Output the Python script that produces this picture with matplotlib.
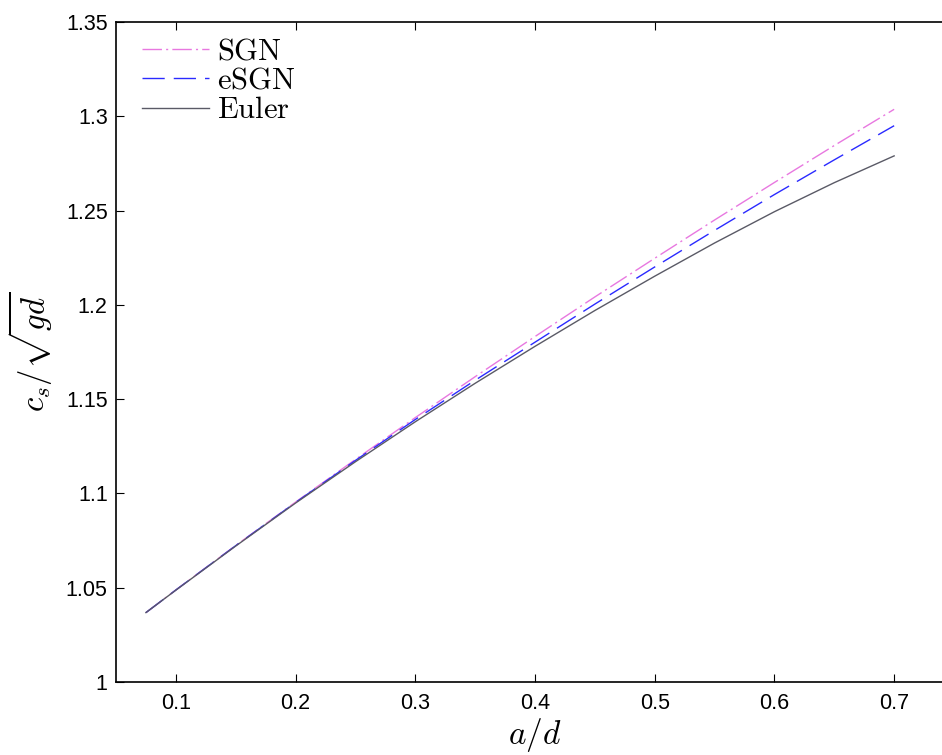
import matplotlib
matplotlib.use("Agg")
import matplotlib.pyplot as plt

plt.rcParams['mathtext.fontset'] = 'cm'
plt.rcParams['font.family'] = ['Liberation Sans', 'DejaVu Sans']

a_d = [0.075, 0.1, 0.15, 0.2, 0.25, 0.3, 0.35, 0.4, 0.45, 0.5, 0.55, 0.6, 0.65, 0.7]
sgn = [1.0368, 1.0488, 1.0724, 1.0954, 1.1180, 1.1402, 1.1619, 1.1832, 1.2042,
       1.2247, 1.2450, 1.2649, 1.2845, 1.3037]
esgn = [1.0368, 1.0488, 1.0723, 1.0952, 1.1175, 1.1392, 1.1600, 1.1802, 1.2004,
        1.2201, 1.2395, 1.2585, 1.2769, 1.2950]
euler = [1.0368, 1.0487, 1.0721, 1.0949, 1.1168, 1.1380, 1.1584, 1.1780, 1.1970,
         1.2152, 1.2328, 1.2494, 1.2648, 1.2790]

xticks = [0.1, 0.2, 0.3, 0.4, 0.5, 0.6, 0.7]
yticks = [1, 1.05, 1.1, 1.15, 1.2, 1.25, 1.3, 1.35]
ytick_labels = ['1', '1.05', '1.1', '1.15', '1.2', '1.25', '1.3', '1.35']

fig = plt.figure(figsize=(9.42, 7.55), dpi=100)
ax = fig.add_axes([116/942, 73/755, 838/942, 660/755])

ax.plot(a_d, sgn, color='#e878e0', lw=1.0, dashes=[14, 3, 1.5, 3],
        label=r'$\mathrm{SGN}$')
ax.plot(a_d, esgn, color='#2a2aff', lw=1.0, dashes=[16, 6.5],
        label=r'$\mathrm{eSGN}$')
ax.plot(a_d, euler, color='#5a5a66', lw=1.0, label=r'$\mathrm{Euler}$')

ax.set_xlim(0.05, 0.75)
ax.set_ylim(1, 1.35)
ax.set_xticks(xticks)
ax.set_xticklabels([str(t) for t in xticks])
ax.set_yticks(yticks)
ax.set_yticklabels(ytick_labels)
ax.tick_params(direction='in', length=6, width=0.8, top=True, right=True,
               labelsize=15.5)
ax.tick_params(axis='x', pad=8)
ax.tick_params(axis='y', pad=6)
for s in ax.spines.values():
    s.set_linewidth(1.2)

ax.set_xlabel(r'$a/d$', fontsize=24, labelpad=1)
ax.set_ylabel(r'$c_s/\sqrt{gd}$', fontsize=23.5, labelpad=8)

leg = ax.legend(loc='upper left', bbox_to_anchor=(0.031, 0.978),
                frameon=False, fontsize=22,
                handlelength=2.2, handletextpad=0.25, labelspacing=-0.02,
                borderaxespad=0, borderpad=0)

fig.savefig('out.png', dpi=100)
